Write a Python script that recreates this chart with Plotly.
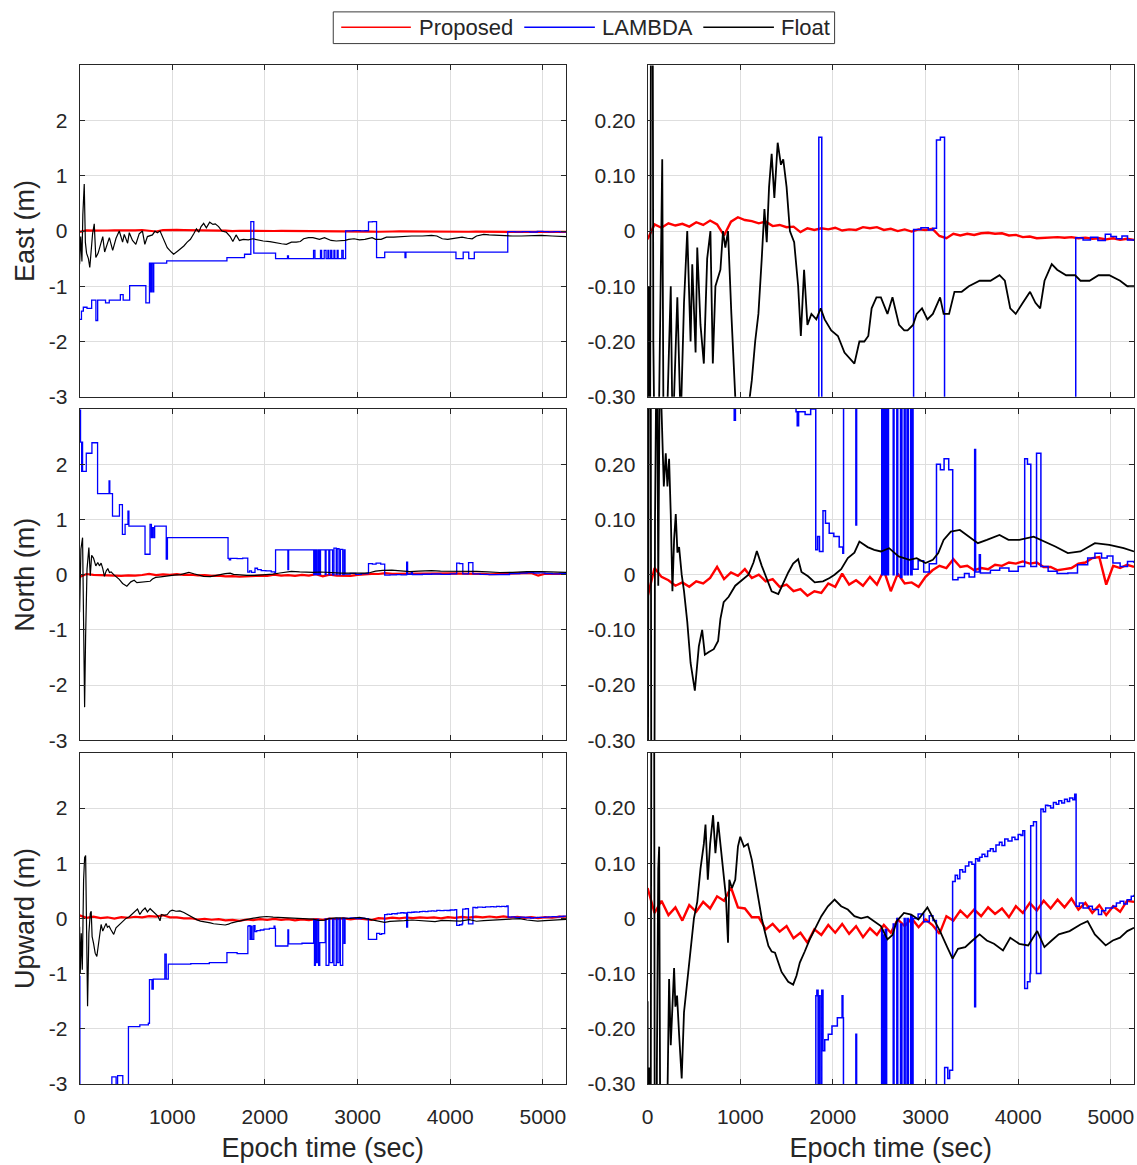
import plotly.graph_objects as go

# ---------------- data ----------------
x_ticks = [0, 1000, 2000, 3000, 4000, 5000]
left_ticks = [-3, -2, -1, 0, 1, 2]
left_ticktext = ["-3", "-2", "-1", "0", "1", "2"]
right_ticks = [-0.3, -0.2, -0.1, 0.0, 0.1, 0.2]
right_ticktext = ["-0.30", "-0.20", "-0.10", "0", "0.10", "0.20"]
row_titles = ["East (m)", "North (m)", "Upward (m)"]
series_names = ["Proposed", "LAMBDA", "Float"]

# common epoch grid for the Proposed solutions (sec)
proposed_t = [0, 75, 150, 225, 300, 375, 450, 525, 600, 675,
              750, 825, 900, 975, 1050, 1125, 1200, 1275, 1350, 1425,
              1500, 1575, 1650, 1725, 1800, 1875, 1950, 2025, 2100, 2175,
              2250, 2325, 2400, 2475, 2550, 2625, 2700, 2775, 2850, 2925,
              3000, 3075, 3150, 3225, 3300, 3375, 3450, 3525, 3600, 3675,
              3750, 3825, 3900, 3975, 4050, 4125, 4200, 4275, 4350, 4425,
              4500, 4575, 4650, 4725, 4800, 4875, 4950, 5025, 5100, 5175,
              5250]

east_proposed = [-0.015, 0.012, 0.006, 0.014, 0.010, 0.013, 0.008, 0.016, 0.011, 0.019,
                 0.012, -0.008, 0.017, 0.025, 0.020, 0.018, 0.014, 0.017, 0.009, 0.011,
                 0.007, 0.008, -0.002, 0.005, 0.002, 0.005, 0.003, 0.006, 0.001, 0.003,
                 0.002, 0.007, 0.005, 0.007, 0.002, 0.004, 0.000, 0.003, -0.001, 0.003,
                 0.002, 0.004, -0.009, -0.013, -0.005, -0.008, -0.005, -0.007, -0.004, -0.003,
                 -0.005, -0.004, -0.008, -0.007, -0.011, -0.010, -0.013, -0.012, -0.012, -0.011,
                 -0.012, -0.011, -0.013, -0.012, -0.014, -0.013, -0.015, -0.013, -0.016, -0.014,
                 -0.016]

north_proposed = [-0.040, 0.012, -0.004, -0.010, -0.020, -0.014, -0.022, -0.012, -0.016, -0.006,
                  0.014, -0.008, 0.004, -0.002, 0.010, -0.006, 0.000, -0.012, -0.008, -0.022,
                  -0.018, -0.030, -0.026, -0.038, -0.030, -0.033, -0.016, -0.022, 0.002, -0.018,
                  -0.010, -0.020, -0.004, -0.018, 0.008, -0.030, 0.002, -0.016, -0.014, -0.022,
                  -0.004, 0.008, 0.016, 0.012, 0.028, 0.014, 0.016, 0.008, 0.012, 0.010,
                  0.018, 0.016, 0.022, 0.020, 0.024, 0.020, 0.022, 0.014, 0.014, 0.008,
                  0.010, 0.012, 0.020, 0.022, 0.030, 0.032, -0.018, 0.016, 0.012, 0.018,
                  0.014]

up_proposed = [0.055, 0.010, 0.032, 0.006, 0.020, -0.004, 0.024, 0.012, 0.030, 0.018,
               0.040, 0.032, 0.056, 0.020, 0.018, 0.002, 0.002, -0.020, -0.010, -0.024,
               -0.014, -0.036, -0.026, -0.044, -0.020, -0.030, -0.012, -0.026, -0.010, -0.028,
               -0.014, -0.034, -0.018, -0.030, -0.012, -0.026, -0.002, -0.014, 0.000, -0.016,
               -0.002, -0.012, -0.028, 0.004, -0.004, 0.014, 0.002, 0.016, 0.004, 0.020,
               0.008, 0.018, 0.002, 0.022, 0.010, 0.028, 0.014, 0.032, 0.018, 0.034,
               0.020, 0.036, 0.016, 0.028, 0.010, 0.024, 0.006, 0.022, 0.012, 0.032,
               0.030]

# LAMBDA solutions: (epoch sec, value m), piecewise constant
east_lambda = [(0, -1.60), (20, -1.45), (40, -1.38), (80, -1.40), (130, -1.25), (176, -1.62),
               (195, -1.25), (280, -1.30), (320, -1.25), (440, -1.15), (470, -1.25), (540, -0.99),
               (715, -1.30), (754, -0.58), (765, -1.10), (775, -0.58), (790, -1.10), (800, -0.58),
               (940, -0.54), (1590, -0.48), (1780, -0.42), (1848, 0.17), (1880, -0.40),
               (2115, -0.50), (2244, -0.45), (2254, -0.50), (2525, -0.35), (2540, -0.50),
               (2600, -0.35), (2612, -0.50), (2640, -0.35), (2660, -0.50), (2680, -0.35),
               (2690, -0.50), (2710, -0.35), (2722, -0.50), (2745, -0.35), (2755, -0.50),
               (2780, -0.35), (2790, -0.50), (2830, -0.35), (2845, -0.50), (2871, 0.003),
               (2950, 0.006), (3030, 0.002), (3080, 0.005), (3118, 0.165), (3160, 0.170),
               (3205, -0.48), (3293, -0.38), (3512, -0.48), (3522, -0.38), (4062, -0.50),
               (4140, -0.38), (4200, -0.50), (4260, -0.38), (4621, -0.012), (4700, -0.016),
               (4780, -0.011), (4860, -0.017), (4940, -0.006), (5000, -0.010), (5060, -0.014),
               (5120, -0.009), (5180, -0.016), (5250, -0.018)]

north_lambda = [(0, 2.98), (10, 2.40), (22, 1.87), (28, 2.40), (32, 1.87), (72, 2.20), (133, 2.39),
                (194, 1.47), (318, 1.70), (326, 1.47), (355, 1.06), (430, 1.27), (462, 0.73),
                (491, 0.91), (522, 1.15), (532, 0.88), (706, 0.37), (760, 0.91), (775, 0.67),
                (785, 0.85), (800, 0.67), (810, 0.88), (935, 0.28), (948, 0.67), (1602, 0.295),
                (1615, 0.27), (1630, 0.295), (1700, 0.29), (1760, 0.30), (1815, 0.045),
                (1835, 0.069), (1855, 0.042), (1893, 0.116), (1920, 0.093), (1960, 0.075),
                (2010, 0.069), (2068, 0.050), (2107, 0.039), (2115, 0.45), (2248, 0.09),
                (2256, 0.45), (2527, 0.0), (2535, 0.45), (2545, 0.0), (2555, 0.45), (2565, 0.0),
                (2580, 0.45), (2590, 0.0), (2600, 0.45), (2651, 0.0), (2660, 0.45), (2690, 0.0),
                (2700, 0.45), (2730, -0.005), (2745, 0.48), (2770, 0.0), (2780, 0.47),
                (2800, 0.0), (2815, 0.46), (2840, 0.0), (2855, 0.45), (2865, 0.010),
                (2920, 0.025), (2980, 0.005), (3040, 0.020), (3118, 0.200), (3160, 0.190),
                (3200, 0.210), (3250, 0.190), (3293, -0.009), (3350, -0.005), (3420, 0.002),
                (3470, -0.004), (3530, 0.227), (3540, 0.005), (3580, 0.036), (3592, 0.003),
                (3700, 0.008), (3800, 0.012), (3900, 0.006), (4000, 0.015), (4070, 0.210),
                (4100, 0.200), (4136, 0.015), (4198, 0.220), (4245, 0.015), (4323, 0.006),
                (4420, 0.002), (4536, 0.003), (4640, 0.018), (4750, 0.030), (4828, 0.039),
                (4900, 0.030), (4960, 0.034), (5022, 0.021), (5100, 0.015), (5180, 0.024),
                (5250, 0.021)]

up_lambda = [(0, -1.05), (3, -3.30), (348, -2.87), (394, -3.20), (410, -2.85), (466, -3.20),
             (527, -1.96), (650, -1.93), (742, -1.90), (754, -1.11), (781, -1.28), (795, -1.10),
             (920, -0.65), (935, -1.10), (957, -0.83), (1200, -0.82), (1400, -0.80),
             (1590, -0.62), (1700, -0.64), (1816, -0.14), (1827, -0.13), (1840, -0.38),
             (1850, -0.14), (1862, -0.38), (1880, -0.13), (1893, -0.24), (1912, -0.22),
             (1950, -0.21), (1990, -0.195), (2048, -0.18), (2080, -0.18), (2099, -0.14),
             (2108, -0.18), (2114, -0.50), (2248, -0.21), (2256, -0.46), (2400, -0.45),
             (2526, -0.02), (2535, -0.85), (2545, -0.03), (2555, -0.80), (2565, -0.02),
             (2580, -0.85), (2592, -0.44), (2651, -0.01), (2660, -0.85), (2690, 0.0),
             (2700, -0.80), (2730, -0.01), (2745, -0.85), (2770, 0.0), (2780, -0.80),
             (2800, 0.0), (2815, -0.85), (2840, 0.005), (2855, -0.45), (2865, 0.0),
             (2920, 0.008), (2980, -0.006), (3040, 0.005), (3080, -0.004), (3117, -0.38),
             (3206, -0.27), (3240, -0.29), (3260, -0.275), (3292, 0.067), (3320, 0.078),
             (3345, 0.072), (3370, 0.088), (3400, 0.084), (3430, 0.095), (3467, 0.102),
             (3500, 0.098), (3530, -0.16), (3540, 0.108), (3565, 0.104), (3583, 0.111),
             (3610, 0.116), (3640, 0.112), (3670, 0.122), (3700, 0.126), (3730, 0.121),
             (3760, 0.133), (3797, 0.138), (3825, 0.132), (3855, 0.144), (3890, 0.140),
             (3933, 0.147), (3965, 0.143), (4000, 0.152), (4030, 0.150), (4050, 0.159),
             (4070, -0.127), (4100, -0.115), (4128, -0.10), (4135, 0.168), (4165, 0.175),
             (4197, -0.10), (4245, 0.198), (4270, 0.193), (4295, 0.205), (4320, 0.204),
             (4350, 0.200), (4380, 0.210), (4410, 0.207), (4438, 0.213), (4470, 0.209),
             (4500, 0.216), (4530, 0.212), (4555, 0.218), (4590, 0.215), (4610, 0.225),
             (4625, 0.022), (4660, 0.028), (4700, 0.019), (4760, 0.022), (4800, 0.016),
             (4866, 0.007), (4900, 0.014), (4944, 0.019), (5022, 0.022), (5060, 0.028),
             (5100, 0.031), (5140, 0.026), (5177, 0.034), (5220, 0.040), (5250, 0.043)]

# Float solutions: (epoch sec, value m)
east_float = [(0, -0.60), (12, -0.10), (25, -0.55), (35, 0.30), (50, 0.85), (62, -0.20), (75, -0.40),
              (95, -0.50), (110, -0.66), (125, -0.30), (140, -0.05), (158, 0.13), (175, -0.48),
              (200, -0.40), (250, -0.10), (270, -0.38), (321, -0.12), (357, -0.35), (393, -0.13),
              (428, 0.00), (464, -0.20), (482, -0.06), (518, -0.22), (536, -0.03), (571, -0.17),
              (607, -0.24), (643, -0.05), (678, 0.00), (704, -0.24), (732, -0.10), (786, -0.07),
              (814, 0.00), (839, -0.03), (868, 0.00), (904, -0.15), (946, -0.30), (990, -0.38),
              (1015, -0.42), (1060, -0.36), (1100, -0.31), (1125, -0.27), (1161, -0.20),
              (1196, -0.15), (1232, -0.05), (1261, 0.04), (1286, -0.02), (1311, 0.08),
              (1339, 0.14), (1368, 0.06), (1404, 0.16), (1439, 0.12), (1464, 0.13), (1500, 0.08),
              (1536, 0.00), (1582, -0.02), (1625, -0.10), (1654, -0.19), (1689, -0.07),
              (1725, -0.17), (1768, -0.15), (1821, -0.16), (1868, -0.14), (1911, -0.16),
              (1982, -0.18), (2054, -0.19), (2125, -0.22), (2180, -0.23), (2232, -0.24),
              (2286, -0.20), (2339, -0.20), (2382, -0.19), (2418, -0.14), (2470, -0.12),
              (2518, -0.12), (2589, -0.15), (2643, -0.12), (2714, -0.17), (2770, -0.18),
              (2806, -0.18), (2865, -0.17), (2904, -0.15), (2962, -0.14), (3020, -0.16),
              (3079, -0.15), (3157, -0.12), (3195, -0.15), (3254, -0.15), (3312, -0.11),
              (3390, -0.11), (3467, -0.10), (3584, -0.09), (3701, -0.09), (3798, -0.08),
              (3856, -0.09), (3914, -0.14), (3973, -0.15), (4050, -0.13), (4128, -0.11),
              (4186, -0.13), (4237, -0.14), (4284, -0.09), (4362, -0.06), (4420, -0.07),
              (4517, -0.08), (4614, -0.08), (4672, -0.09), (4770, -0.09), (4867, -0.08),
              (4983, -0.08), (5100, -0.09), (5178, -0.10), (5250, -0.10)]

north_float = [(0, -0.68), (8, 0.0), (14, 0.46), (32, 0.67), (43, -0.50), (54, -2.40), (65, -1.10),
               (80, 0.10), (100, 0.49), (115, -0.02), (130, 0.35), (150, 0.30), (175, 0.16),
               (196, 0.22), (214, 0.16), (232, 0.21), (250, 0.11), (268, -0.03), (286, 0.064),
               (304, 0.11), (322, 0.04), (340, 0.05), (368, 0.0), (393, -0.03), (428, -0.085),
               (464, -0.16), (510, -0.21), (553, -0.13), (589, -0.10), (618, -0.145),
               (661, -0.14), (714, -0.135), (761, -0.12), (786, -0.08), (821, -0.05),
               (875, -0.04), (946, -0.02), (1018, -0.01), (1089, 0.0), (1143, 0.022),
               (1179, 0.043), (1232, 0.016), (1290, -0.008), (1339, -0.03), (1411, -0.035),
               (1464, -0.014), (1518, 0.004), (1571, 0.02), (1625, 0.028), (1661, 0.005),
               (1732, -0.003), (1804, -0.014), (1893, -0.012), (1964, -0.006), (2018, 0.0),
               (2089, 0.01), (2161, 0.03), (2232, 0.04), (2286, 0.06), (2375, 0.05),
               (2446, 0.045), (2518, 0.042), (2607, 0.048), (2709, 0.033), (2826, 0.027),
               (2904, 0.03), (2999, 0.021), (3079, 0.027), (3137, 0.039), (3195, 0.063),
               (3273, 0.078), (3370, 0.081), (3467, 0.069), (3565, 0.057), (3662, 0.063),
               (3798, 0.072), (3895, 0.063), (4012, 0.063), (4167, 0.069), (4284, 0.06),
               (4400, 0.051), (4536, 0.039), (4672, 0.042), (4828, 0.057), (4983, 0.054),
               (5139, 0.048), (5250, 0.042)]

up_float = [(0, -0.15), (7, -0.99), (18, -0.27), (29, -0.93), (43, 0.69), (54, 1.10), (65, 1.14),
            (76, -0.20), (86, -1.59), (100, -0.27), (115, 0.09), (125, 0.13), (135, -0.33),
            (150, -0.45), (168, -0.63), (186, -0.69), (204, -0.45), (222, -0.27), (232, -0.11),
            (250, -0.23), (268, -0.15), (286, -0.09), (300, -0.16), (318, -0.14), (340, -0.21),
            (368, -0.29), (393, -0.17), (428, -0.11), (464, -0.05), (500, 0.0), (536, 0.03),
            (571, 0.09), (607, 0.135), (625, 0.17), (650, 0.07), (675, 0.135), (707, 0.187),
            (732, 0.118), (761, 0.175), (790, 0.13), (821, 0.07), (845, 0.04), (868, -0.044),
            (882, 0.07), (910, 0.055), (946, 0.07), (975, 0.13), (1000, 0.148), (1040, 0.13),
            (1082, 0.135), (1125, 0.106), (1161, 0.07), (1196, 0.034), (1232, 0.0),
            (1268, -0.026), (1304, -0.05), (1339, -0.06), (1375, -0.062), (1411, -0.08),
            (1446, -0.097), (1518, -0.115), (1571, -0.12), (1607, -0.104), (1643, -0.08),
            (1696, -0.06), (1750, -0.038), (1804, -0.02), (1875, 0.004), (1946, 0.022),
            (2018, 0.034), (2089, 0.022), (2161, 0.016), (2232, 0.004), (2304, 0.0),
            (2375, 0.003), (2446, -0.005), (2518, -0.014), (2589, -0.038), (2643, -0.03),
            (2689, -0.005), (2767, 0.01), (2845, 0.007), (2923, -0.002), (3020, 0.02),
            (3078, 0.001), (3156, -0.023), (3234, -0.052), (3292, -0.073), (3350, -0.055),
            (3428, -0.052), (3506, -0.04), (3583, -0.029), (3661, -0.04), (3739, -0.046),
            (3836, -0.058), (3914, -0.035), (4011, -0.046), (4108, -0.049), (4205, -0.023),
            (4283, -0.052), (4361, -0.04), (4438, -0.029), (4555, -0.023), (4672, -0.011),
            (4749, -0.005), (4827, -0.029), (4944, -0.049), (5021, -0.04), (5099, -0.035),
            (5177, -0.023), (5250, -0.017)]

# ---------------- figure ----------------
W, H = 1137, 1165            # figure size in px (page body margin removed below)
FONT = "Liberation Sans, Arial, Helvetica, sans-serif"
TXT = "#262626"
GRID = "#dedede"
RED, BLUE, BLACK = "#ff0000", "#0000ff", "#000000"


def fx(p):
    return p / W


def fy(p):
    return 1 - p / H


col_px = [(74, 563), (645, 1134)]
row_px = [(66, 400.5), (413, 747.3), (760, 1094.3)]

components = [
    (east_proposed, east_lambda, east_float),
    (north_proposed, north_lambda, north_float),
    (up_proposed, up_lambda, up_float),
]

fig = go.Figure()
layout = {}
for r in range(3):
    prop_v, lam, flt = components[r]
    lam_t, lam_v = zip(*lam)
    flt_t, flt_v = zip(*flt)
    for c in range(2):
        i = r * 2 + c + 1
        xs = "x" if i == 1 else f"x{i}"
        ys = "y" if i == 1 else f"y{i}"
        wred, wblue, wblack = (2.2, 1.3, 1.2) if c == 0 else (2.4, 1.5, 1.8)
        fig.add_trace(go.Scatter(x=proposed_t, y=prop_v, mode="lines", name=series_names[0],
                                 line=dict(color=RED, width=wred), xaxis=xs, yaxis=ys,
                                 showlegend=False))
        fig.add_trace(go.Scatter(x=list(lam_t), y=list(lam_v), mode="lines", name=series_names[1],
                                 line=dict(color=BLUE, width=wblue, shape="hv"), xaxis=xs, yaxis=ys,
                                 showlegend=False))
        fig.add_trace(go.Scatter(x=list(flt_t), y=list(flt_v), mode="lines", name=series_names[2],
                                 line=dict(color=BLACK, width=wblack), xaxis=xs, yaxis=ys,
                                 showlegend=False))
        x0, x1 = col_px[c]
        y0, y1 = row_px[r]
        xa = dict(domain=[fx(x0), fx(x1)], anchor=ys, range=[0, 5250],
                  tickvals=x_ticks, ticktext=[str(v) for v in x_ticks],
                  showticklabels=(r == 2), showgrid=True, gridcolor=GRID, gridwidth=1,
                  zeroline=False, showline=True, linecolor=TXT, linewidth=1, mirror="ticks",
                  ticks="inside", ticklen=5, tickcolor=TXT, ticklabelstandoff=14,
                  tickfont=dict(family=FONT, size=21, color=TXT))
        if r == 2:
            xa["title"] = dict(text="Epoch time (sec)", font=dict(family=FONT, size=27, color=TXT),
                               standoff=10)
        if c == 0:
            yr, tv, tt = [-3, 3], left_ticks, left_ticktext
        else:
            yr, tv, tt = [-0.3, 0.3], right_ticks, right_ticktext
        ya = dict(domain=[fy(y1), fy(y0)], anchor=xs, range=yr,
                  tickvals=tv, ticktext=tt, showgrid=True, gridcolor=GRID, gridwidth=1,
                  zeroline=False, showline=True, linecolor=TXT, linewidth=1, mirror="ticks",
                  ticks="inside", ticklen=5, tickcolor=TXT, ticklabelstandoff=7,
                  tickfont=dict(family=FONT, size=21, color=TXT))
        if c == 0:
            ya["title"] = dict(text=row_titles[r], font=dict(family=FONT, size=27, color=TXT),
                               standoff=6)
        layout["xaxis" if i == 1 else f"xaxis{i}"] = xa
        layout["yaxis" if i == 1 else f"yaxis{i}"] = ya

# legend box drawn at the top centre
leg_y = fy(27.5)
shapes = [dict(type="rect", xref="paper", yref="paper", x0=fx(329), x1=fx(833),
               y0=fy(44), y1=fy(12), line=dict(color="#3c3c3c", width=1),
               fillcolor="white", layer="above")]
annotations = []
legend_items = [(337, 407, 413, RED), (521, 592, 597, BLUE), (701, 772, 777, BLACK)]
for (lx0, lx1, tx, lcolor), name in zip(legend_items, series_names):
    shapes.append(dict(type="line", xref="paper", yref="paper", x0=fx(lx0), x1=fx(lx1),
                       y0=leg_y, y1=leg_y, line=dict(color=lcolor, width=1.5), layer="above"))
    annotations.append(dict(text=name, xref="paper", yref="paper", x=fx(tx), y=leg_y,
                            xanchor="left", yanchor="middle", showarrow=False,
                            font=dict(family=FONT, size=22, color=TXT)))

fig.update_layout(width=W, height=H, margin=dict(l=0, r=0, t=0, b=0),
                  paper_bgcolor="white", plot_bgcolor="white", showlegend=False,
                  shapes=shapes, annotations=annotations, **layout)
fig.write_html("out.html", config={"displayModeBar": False},
               post_script="document.body.style.margin='0';"
                           "document.documentElement.style.overflow='hidden';")
